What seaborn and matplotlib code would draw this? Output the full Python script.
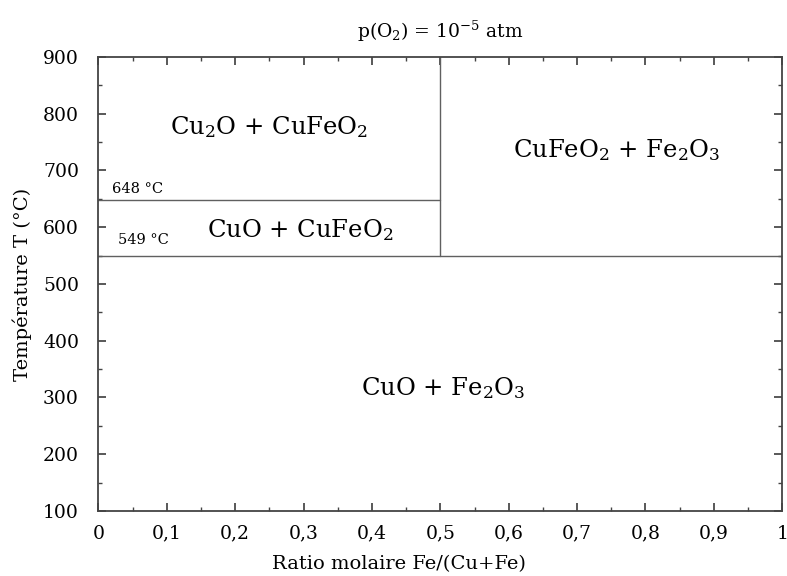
import matplotlib
matplotlib.use("Agg")
import matplotlib.pyplot as plt
from matplotlib.ticker import MultipleLocator, FuncFormatter
import seaborn as sns
import pandas as pd

# phase boundaries (x = Fe/(Cu+Fe), y = T in °C)
boundary_names = ["648", "549", "vert"]
boundary_x = [[0.0, 0.5], [0.0, 1.0], [0.5, 0.5]]
boundary_y = [[648, 648], [549, 549], [549, 900]]

# phase field labels
phase_labels = [r"Cu$_2$O + CuFeO$_2$", r"CuFeO$_2$ + Fe$_2$O$_3$",
                r"CuO + CuFeO$_2$", r"CuO + Fe$_2$O$_3$"]
phase_x = [0.25, 0.757, 0.295, 0.504]
phase_y = [777, 736, 595, 317]

temp_labels = ["648 °C", "549 °C"]
temp_x = [0.02, 0.028]
temp_y = [655, 566]

sns.set_theme(style="ticks")
plt.rcParams["font.family"] = ["DejaVu Serif"]
plt.rcParams["mathtext.fontset"] = "dejavuserif"
plt.rcParams["text.color"] = "black"
plt.rcParams["axes.labelcolor"] = "black"

fig, ax = plt.subplots(figsize=(7.87, 5.76), dpi=100)
fig.subplots_adjust(left=0.125, right=0.994, top=0.901, bottom=0.113)

rows = []
for name, xs, ys in zip(boundary_names, boundary_x, boundary_y):
    for x, y in zip(xs, ys):
        rows.append({"seg": name, "x": x, "y": y})
df = pd.DataFrame(rows)
sns.lineplot(data=df, x="x", y="y", units="seg", estimator=None,
             color="#606060", linewidth=1.0, sort=False, ax=ax)

for lab, x, y in zip(phase_labels, phase_x, phase_y):
    ax.text(x, y, lab, ha="center", va="center", fontsize=17.5, color="black")
for lab, x, y in zip(temp_labels, temp_x, temp_y):
    ax.text(x, y, lab, ha="left", va="bottom", fontsize=10.5, color="black")

ax.set_xlim(0, 1)
ax.set_ylim(100, 900)
ax.xaxis.set_major_locator(MultipleLocator(0.1))
ax.xaxis.set_minor_locator(MultipleLocator(0.05))
ax.yaxis.set_major_locator(MultipleLocator(100))
ax.yaxis.set_minor_locator(MultipleLocator(50))
ax.xaxis.set_major_formatter(FuncFormatter(lambda v, p: f"{v:g}".replace(".", ",")))
ax.tick_params(which="both", direction="in", top=True, right=True,
               color="#444444", labelcolor="black", labelsize=13.5)
ax.tick_params(which="major", length=6)
ax.tick_params(which="minor", length=3)
ax.tick_params(axis="x", pad=10)
ax.tick_params(axis="y", pad=14)
for s in ax.spines.values():
    s.set_color("#444444")
    s.set_linewidth(1.3)

ax.set_xlabel("Ratio molaire Fe/(Cu+Fe)", fontsize=14)
ax.set_ylabel("Température T (°C)", fontsize=14)
ax.xaxis.set_label_coords(0.439, -0.098)
ax.yaxis.set_label_coords(-0.097, 0.5)
ax.set_title(r"p(O$_2$) = 10$^{-5}$ atm", fontsize=13.5, pad=14)

fig.savefig("out.png", dpi=100)
